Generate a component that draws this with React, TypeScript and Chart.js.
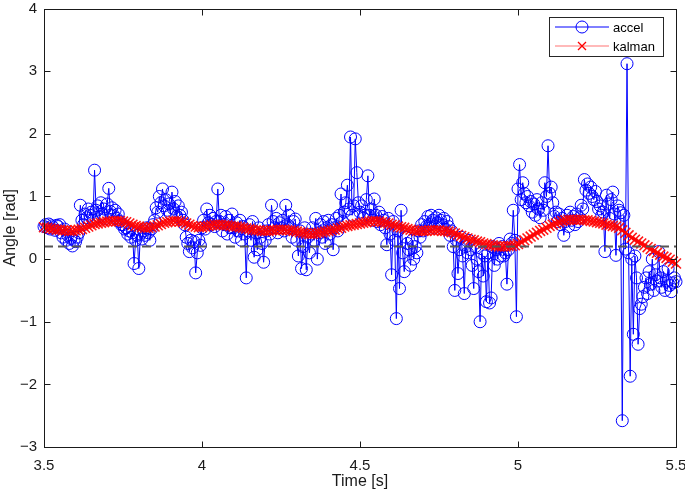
import React, { useEffect, useRef } from 'react';
import { Chart, registerables } from 'chart.js';

Chart.register(...registerables);

const startTime = 3.5;
const accelStep = 0.005;
const kalmanStep = 0.01;

const accelValues = [
  0.52, 0.55, 0.5, 0.56, 0.48, 0.53, 0.5, 0.46, 0.54, 0.52,
  0.55, 0.42, 0.35, 0.48, 0.3, 0.38, 0.25, 0.33, 0.21, 0.3,
  0.28, 0.35, 0.42, 0.86, 0.62, 0.55, 0.72, 0.66, 0.8, 0.7,
  0.75, 0.62, 1.42, 0.78, 0.85, 0.68, 0.9, 0.72, 0.8, 0.65,
  0.88, 1.13, 0.76, 0.82, 0.7, 0.78, 0.65, 0.72, 0.6, 0.55,
  0.55, 0.48, 0.5, 0.4, 0.45, 0.35, 0.42, -0.07, 0.3, 0.38,
  -0.15, 0.4, 0.32, 0.45, 0.38, 0.5, 0.42, 0.3, 0.48, 0.55,
  0.62, 0.82, 0.75, 1.0, 0.9, 1.12, 0.85, 0.95, 0.78, 0.88,
  0.72, 1.07, 0.8, 0.92, 0.68, 0.85, 0.7, 0.75, 0.62, 0.55,
  0.35, 0.25, 0.12, 0.3, 0.18, 0.28, -0.22, 0.1, 0.3, 0.22,
  0.5, 0.62, 0.48, 0.8, 0.58, 0.7, 0.55, 0.65, 0.52, 0.6,
  1.12, 0.6, 0.7, 0.45, 0.55, 0.68, 0.4, 0.62, 0.5, 0.72,
  0.5, 0.35, 0.58, 0.45, 0.62, 0.3, 0.52, 0.4, -0.3, 0.45,
  0.55, 0.3, 0.6, 0.03, 0.42, 0.15, 0.5, 0.35, 0.25, -0.05,
  0.3, 0.45, 0.55, 0.4, 0.86, 0.6, 0.5, 0.65, 0.42, 0.58,
  0.5, 0.62, 0.45, 0.86, 0.55, 0.7, 0.5, 0.35, 0.6, 0.64,
  0.3, 0.05, 0.45, -0.15, 0.2, 0.5, -0.17, 0.35, 0.1, 0.4,
  0.5, 0.3, 0.65, 0.0, 0.42, 0.55, 0.35, 0.6, 0.25, 0.5,
  0.62, 0.4, 0.55, 0.15, 0.5, 0.65, 0.45, 0.7, 1.04, 0.6,
  0.75, 0.9, 1.18, 0.8, 1.95, 0.7, 0.85, 1.92, 1.38, 0.9,
  0.75, 0.85, 0.65, 0.7, 0.95, 1.33, 0.7, 0.8, 0.62, 0.96,
  0.7, 0.6, 0.75, 0.55, 0.68, 0.62, 0.5, 0.23, 0.65, 0.4,
  -0.25, 0.6, 0.3, -0.95, 0.45, -0.47, 0.78, 0.1, -0.2, 0.35,
  0.25, 0.15, -0.1, 0.3, 0.0, 0.2, 0.1, 0.45, 0.35, 0.55,
  0.45, 0.6, 0.52, 0.68, 0.55, 0.7, 0.62, 0.5, 0.66, 0.58,
  0.7, 0.62, 0.55, 0.65, 0.48, 0.6, 0.52, 0.38, 0.45, 0.2,
  -0.5, 0.3, -0.23, 0.15, 0.35, 0.05, -0.55, 0.2, 0.1, 0.3,
  0.15, -0.1, -0.47, 0.2, 0.0, -0.2, -1.0, 0.1, -0.27, 0.05,
  -0.68, 0.1, -0.7, -0.62, 0.2, -0.1, 0.15, 0.0, 0.25, 0.05,
  0.2, 0.05, 0.1, -0.4, 0.15, 0.32, 0.25, 0.78, 0.3, -0.92,
  1.12, 1.51, 0.95, 1.22, 1.05, 0.9, 1.0, 0.85, 0.92, 0.75,
  0.88, 0.7, 0.95, 0.8, 0.66, 0.9, 0.78, 1.22, 1.0, 1.81,
  1.05, 1.15, 0.9, 0.68, 0.75, 0.6, 0.72, 0.55, 0.65, 0.38,
  0.6, 0.7, 0.52, 0.75, 0.62, 0.68, 0.55, 0.72, 0.6, 0.66,
  0.86, 0.8, 1.27, 1.1, 1.2, 1.05, 1.15, 1.0, 0.95, 1.08,
  0.92, 0.8, 0.85, 0.7, 0.75, 0.12, 1.02, 0.88, 0.65, 0.95,
  1.07, 0.72, 0.06, 0.85, 0.78, 0.74, -2.58, 0.7, 0.16, 3.12,
  0.1, -1.87, 0.0, -1.2, 0.05, -0.3, -1.36, -0.79, -0.72, -0.6,
  -0.45, -0.3, -0.55, -0.2, -0.4, 0.0, -0.5, -0.25, -0.35, 0.12,
  -0.3, -0.45, -0.2, -0.5, -0.35, -0.15, -0.42, -0.52, -0.38, -0.3,
  -0.36,
];

const kalmanValues = [
  0.51, 0.5, 0.49, 0.48, 0.47, 0.47, 0.46, 0.46, 0.45, 0.45,
  0.46, 0.47, 0.48, 0.5, 0.52, 0.54, 0.56, 0.57, 0.58, 0.59,
  0.6, 0.6, 0.61, 0.61, 0.61, 0.6, 0.59, 0.57, 0.55, 0.53,
  0.52, 0.51, 0.5, 0.5, 0.51, 0.52, 0.54, 0.56, 0.58, 0.59,
  0.6, 0.61, 0.61, 0.6, 0.59, 0.57, 0.55, 0.53, 0.52, 0.51,
  0.51, 0.52, 0.53, 0.54, 0.55, 0.55, 0.55, 0.54, 0.54, 0.53,
  0.52, 0.52, 0.51, 0.5, 0.49, 0.48, 0.47, 0.46, 0.46, 0.45,
  0.45, 0.45, 0.46, 0.46, 0.47, 0.47, 0.47, 0.46, 0.46, 0.45,
  0.44, 0.43, 0.42, 0.41, 0.4, 0.4, 0.41, 0.42, 0.43, 0.44,
  0.45, 0.46, 0.47, 0.49, 0.5, 0.52, 0.53, 0.54, 0.55, 0.56,
  0.57, 0.58, 0.59, 0.6, 0.61, 0.61, 0.6, 0.59, 0.58, 0.57,
  0.55, 0.54, 0.52, 0.51, 0.5, 0.48, 0.47, 0.46, 0.45, 0.45,
  0.45, 0.45, 0.46, 0.46, 0.46, 0.46, 0.45, 0.45, 0.44, 0.43,
  0.41, 0.39, 0.37, 0.35, 0.33, 0.31, 0.3, 0.28, 0.27, 0.25,
  0.24, 0.23, 0.22, 0.21, 0.2, 0.2, 0.2, 0.21, 0.21, 0.22,
  0.24, 0.27, 0.3, 0.33, 0.36, 0.39, 0.42, 0.45, 0.47, 0.5,
  0.53, 0.55, 0.57, 0.59, 0.61, 0.62, 0.63, 0.63, 0.63, 0.63,
  0.63, 0.62, 0.62, 0.61, 0.6, 0.59, 0.58, 0.57, 0.55, 0.54,
  0.53, 0.52, 0.5, 0.46, 0.42, 0.38, 0.34, 0.31, 0.28, 0.25,
  0.22, 0.19, 0.16, 0.13, 0.1, 0.07, 0.04, 0.02, -0.01, -0.04,
  -0.07,
];

const thresholdValue = 0.2;
const xRange = [3.5, 5.5];
const yRange = [-3, 4];
const xTicks = [3.5, 4, 4.5, 5, 5.5];
const yTicks = [-3, -2, -1, 0, 1, 2, 3, 4];
const seriesLabels = ['accel', 'kalman'];
const xTitle = 'Time [s]';
const yTitle = 'Angle [rad]';

const FONT = '"Liberation Sans", Arial, sans-serif';
const BLUE = '#0000ff';
const RED = '#ff0000';

const fmt = (v: number) => String(v).replace('-', '\u2212');

const framePlugin = {
  id: 'matlabFrame',
  afterDatasetsDraw(chart: any) {
    const { ctx, chartArea: a, scales } = chart;
    const x = scales.x;
    const y = scales.y;
    ctx.save();
    ctx.strokeStyle = '#1a1a1a';
    ctx.lineWidth = 1;
    ctx.beginPath();
    const L = Math.round(a.left) + 0.5;
    const R = Math.round(a.right) + 0.5;
    const T = Math.round(a.top) + 0.5;
    const B = Math.round(a.bottom) + 0.5;
    xTicks.forEach((v) => {
      const px = Math.round(x.getPixelForValue(v)) + 0.5;
      ctx.moveTo(px, B);
      ctx.lineTo(px, B - 6);
      ctx.moveTo(px, T);
      ctx.lineTo(px, T + 6);
    });
    yTicks.forEach((v) => {
      const py = Math.round(y.getPixelForValue(v)) + 0.5;
      ctx.moveTo(L, py);
      ctx.lineTo(L + 6, py);
      ctx.moveTo(R, py);
      ctx.lineTo(R - 6, py);
    });
    ctx.stroke();
    ctx.strokeRect(L, T, R - L, B - T);

    ctx.fillStyle = '#1a1a1a';
    ctx.font = `16px ${FONT}`;
    ctx.textAlign = 'center';
    ctx.textBaseline = 'middle';
    ctx.fillText(xTitle, (a.left + a.right) / 2, 482);
    ctx.save();
    ctx.translate(11, (a.top + a.bottom) / 2);
    ctx.rotate(-Math.PI / 2);
    ctx.fillText(yTitle, 0, 0);
    ctx.restore();

    const bx = 549.5, by = 17.5, bw = 114, bh = 39;
    ctx.fillStyle = '#ffffff';
    ctx.fillRect(bx, by, bw, bh);
    ctx.strokeStyle = '#262626';
    ctx.strokeRect(bx, by, bw, bh);
    const rows = [27, 46];
    ctx.strokeStyle = BLUE;
    ctx.beginPath();
    ctx.moveTo(555, rows[0]);
    ctx.lineTo(609, rows[0]);
    ctx.stroke();
    ctx.beginPath();
    ctx.arc(582, rows[0], 6, 0, Math.PI * 2);
    ctx.stroke();
    ctx.strokeStyle = 'rgba(255,0,0,0.55)';
    ctx.beginPath();
    ctx.moveTo(555, rows[1]);
    ctx.lineTo(609, rows[1]);
    ctx.stroke();
    ctx.strokeStyle = RED;
    ctx.lineWidth = 1.3;
    ctx.beginPath();
    ctx.moveTo(578, rows[1] - 4);
    ctx.lineTo(586, rows[1] + 4);
    ctx.moveTo(586, rows[1] - 4);
    ctx.lineTo(578, rows[1] + 4);
    ctx.stroke();
    ctx.fillStyle = '#000';
    ctx.font = `13px ${FONT}`;
    ctx.textAlign = 'left';
    ctx.fillText(seriesLabels[0], 613, rows[0] + 1);
    ctx.fillText(seriesLabels[1], 613, rows[1] + 1);
    ctx.restore();
  },
};

export default function App() {
  const ref = useRef<HTMLCanvasElement>(null);
  useEffect(() => {
    document.body.style.margin = '0';
    const accelData = accelValues.map((v, i) => ({ x: startTime + i * accelStep, y: v }));
    const kalmanData = kalmanValues.map((v, i) => ({ x: startTime + i * kalmanStep, y: v }));
    const thresholdData = xRange.map((t) => ({ x: t, y: thresholdValue }));
    const chart = new Chart(ref.current!, {
      type: 'line',
      data: {
        datasets: [
          {
            label: 'threshold',
            data: thresholdData,
            borderColor: '#555555',
            borderWidth: 2,
            borderDash: [9, 5],
            pointRadius: 0,
            order: 0,
          },
          {
            label: seriesLabels[1],
            data: kalmanData,
            borderColor: 'rgba(255,0,0,0.7)',
            borderWidth: 1.5,
            pointStyle: 'crossRot',
            pointRadius: 7,
            pointBorderColor: 'rgba(255,0,0,0.9)',
            pointBorderWidth: 1.6,
            pointBackgroundColor: RED,
            clip: false,
            order: 1,
          } as any,
          {
            label: seriesLabels[0],
            data: accelData,
            borderColor: BLUE,
            borderWidth: 1,
            pointStyle: 'circle',
            pointRadius: 6,
            pointBorderColor: BLUE,
            pointBorderWidth: 1,
            pointBackgroundColor: 'rgba(0,0,0,0)',
            clip: false,
            order: 2,
          } as any,
        ],
      },
      options: {
        responsive: false,
        animation: false,
        events: [],
        layout: { padding: { top: 5, right: 9, left: 0, bottom: 0 } },
        plugins: { legend: { display: false }, tooltip: { enabled: false } },
        scales: {
          x: {
            type: 'linear',
            min: xRange[0],
            max: xRange[1],
            grid: { display: false, drawTicks: false },
            border: { display: false },
            ticks: {
              stepSize: 0.5,
              padding: 10,
              color: '#1a1a1a',
              font: { family: FONT, size: 15 },
              maxRotation: 0,
              callback: (v: any) => fmt(Number(v)),
            },
            afterFit: (s: any) => {
              s.height = 44;
              s.paddingLeft = 0;
              s.paddingRight = 0;
            },
          },
          y: {
            type: 'linear',
            min: yRange[0],
            max: yRange[1],
            grid: { display: false, drawTicks: false },
            border: { display: false },
            ticks: {
              stepSize: 1,
              padding: 7,
              color: '#1a1a1a',
              font: { family: FONT, size: 15 },
              callback: (v: any) => fmt(Number(v)),
            },
            afterFit: (s: any) => {
              s.width = 44;
              s.paddingTop = 0;
              s.paddingBottom = 0;
            },
          },
        },
      },
      plugins: [framePlugin],
    });
    return () => chart.destroy();
  }, []);
  return (
    <div style={{ position: 'absolute', left: 0, top: 0, width: 685, height: 491 }}>
      <canvas ref={ref} width={685} height={491} style={{ display: 'block' }} />
    </div>
  );
}
